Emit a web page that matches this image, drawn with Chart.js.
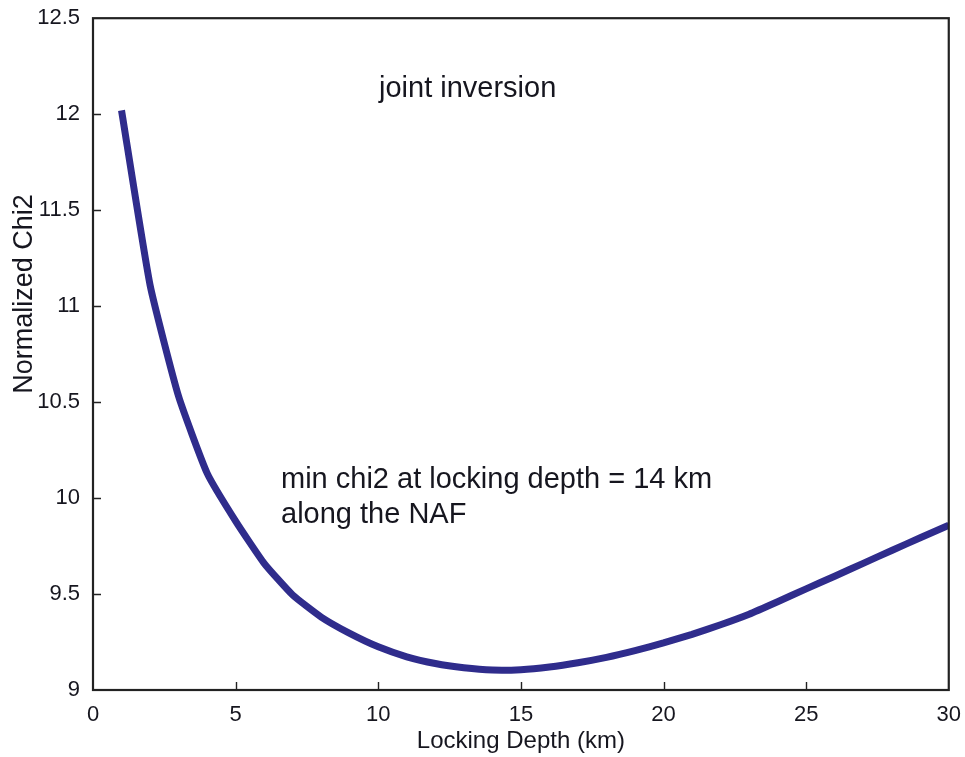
<!DOCTYPE html>
<html>
<head>
<meta charset="utf-8">
<script src="https://cdn.jsdelivr.net/npm/chart.js@4"></script>
<style>
  html, body { margin: 0; padding: 0; background: #fff; }
  #wrap { width: 965px; height: 757px; position: relative; }
</style>
</head>
<body>
<div id="wrap"><canvas id="chiChart"></canvas></div>
<script>
// locking depth (km) and normalized chi2
const depthKm = [1, 2, 3, 4, 5, 6, 7, 8, 9, 10, 11, 12, 13, 14, 15,
    16, 17, 18, 19, 20, 21, 22, 23, 24, 25, 26, 27, 28, 29, 30];
const chi2 = [12.02, 11.11, 10.53, 10.13, 9.88, 9.66, 9.495, 9.38, 9.295, 9.225,
    9.173, 9.138, 9.116, 9.104, 9.106, 9.12, 9.142, 9.17, 9.205, 9.245,
    9.29, 9.34, 9.395, 9.46, 9.527, 9.593, 9.66, 9.727, 9.793, 9.858];
const xTicks = [0, 5, 10, 15, 20, 25, 30];
const yTicks = [9, 9.5, 10, 10.5, 11, 11.5, 12, 12.5];

const textColor = '#16161f',
    frameColor = '#222',
    lineColor = '#2f2c8c',
    fontFamily = '"Liberation Sans", Arial, Helvetica, sans-serif';

const ctx = document.getElementById('chiChart').getContext('2d');

// frame, inward ticks and the free text notes
const framePlugin = {
    id: 'frame',
    afterDraw(chart) {
        const c = chart.ctx,
            area = chart.chartArea,
            xs = chart.scales.x,
            ys = chart.scales.y;
        c.save();
        c.strokeStyle = frameColor;
        c.lineWidth = 2.2;
        c.strokeRect(area.left, area.top, area.right - area.left, area.bottom - area.top);
        c.lineWidth = 1.4;
        c.beginPath();
        xTicks.forEach(v => {
            if (v === xs.min || v === xs.max) return;
            const px = Math.round(xs.getPixelForValue(v)) + 0.5;
            c.moveTo(px, area.bottom);
            c.lineTo(px, area.bottom - 8);
        });
        yTicks.forEach(v => {
            if (v === ys.min || v === ys.max) return;
            const py = Math.round(ys.getPixelForValue(v)) + 0.5;
            c.moveTo(area.left, py);
            c.lineTo(area.left + 8, py);
        });
        c.stroke();

        c.fillStyle = textColor;
        c.textBaseline = 'alphabetic';
        c.textAlign = 'left';
        c.font = '29px ' + fontFamily;
        c.fillText('joint inversion', 379, 97);
        c.fillText('min chi2 at locking depth = 14 km', 281, 488);
        c.fillText('along the NAF', 281, 523);

        c.translate(25, 294);
        c.rotate(-Math.PI / 2);
        c.textAlign = 'center';
        c.textBaseline = 'middle';
        c.font = '27px ' + fontFamily;
        c.fillText('Normalized Chi2', 0, 0);
        c.restore();
    }
};

new Chart(ctx, {
    type: 'line',
    data: {
        datasets: [{
            label: 'Normalized Chi2',
            data: depthKm.map((d, i) => ({ x: d, y: chi2[i] })),
            borderColor: lineColor,
            backgroundColor: lineColor,
            borderWidth: 7,
            pointRadius: 0,
            tension: 0.15,
            fill: false
        }]
    },
    options: {
        responsive: true,
        maintainAspectRatio: false,
        animation: false,
        layout: {
            padding: { top: 9, right: 12, bottom: 0, left: 0 }
        },
        plugins: {
            legend: { display: false },
            tooltip: { enabled: false }
        },
        scales: {
            x: {
                type: 'linear',
                min: 0,
                max: 30,
                afterBuildTicks: scale => {
                    scale.ticks = xTicks.map(v => ({ value: v }));
                },
                afterFit: scale => { scale.height = 67; },
                grid: { display: false },
                border: { display: false },
                ticks: {
                    color: textColor,
                    padding: 4,
                    maxRotation: 0,
                    font: { family: fontFamily, size: 22 }
                },
                title: {
                    display: true,
                    text: 'Locking Depth (km)',
                    color: textColor,
                    padding: { top: 0, bottom: 1 },
                    font: { family: fontFamily, size: 24 }
                }
            },
            y: {
                type: 'linear',
                min: 9,
                max: 12.5,
                afterBuildTicks: scale => {
                    scale.ticks = yTicks.map(v => ({ value: v }));
                },
                afterFit: scale => { scale.width = 93; },
                grid: { display: false },
                border: { display: false },
                ticks: {
                    color: textColor,
                    padding: 5,
                    callback: v => String(+v.toFixed(1)),
                    font: { family: fontFamily, size: 22 }
                }
            }
        }
    },
    plugins: [framePlugin]
});
</script>
</body>
</html>
